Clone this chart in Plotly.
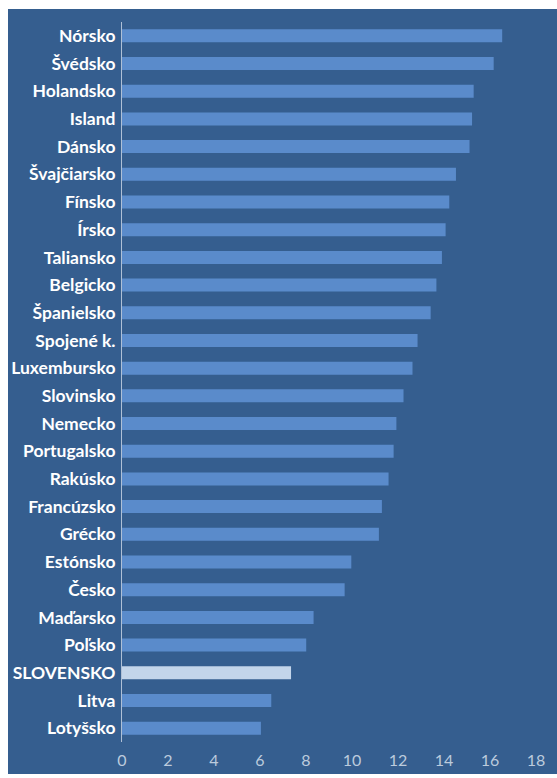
import plotly.graph_objects as go

# Krajiny zoradené zhora nadol
krajiny = [
    "Nórsko", "Švédsko", "Holandsko", "Island", "Dánsko", "Švajčiarsko",
    "Fínsko", "Írsko", "Taliansko", "Belgicko", "Španielsko", "Spojené k.",
    "Luxembursko", "Slovinsko", "Nemecko", "Portugalsko", "Rakúsko",
    "Francúzsko", "Grécko", "Estónsko", "Česko", "Maďarsko", "Poľsko",
    "SLOVENSKO", "Litva", "Lotyšsko",
]
hodnoty = [
    16.53, 16.16, 15.29, 15.22, 15.11, 14.52,
    14.23, 14.07, 13.91, 13.67, 13.42, 12.85,
    12.63, 12.24, 11.93, 11.81, 11.59,
    11.30, 11.17, 9.97, 9.68, 8.33, 8.01,
    7.35, 6.49, 6.04,
]
x_ticks = [0, 2, 4, 6, 8, 10, 12, 14, 16, 18]

BG = "#355E8F"
BAR = "#5A8BCB"
HIGHLIGHT = "#C3D5EA"

farby = [HIGHLIGHT if k == "SLOVENSKO" else BAR for k in krajiny]

fig = go.Figure(
    go.Bar(
        x=hodnoty,
        y=krajiny,
        orientation="h",
        marker=dict(color=farby, line=dict(width=0)),
        hoverinfo="x+y",
    )
)

W, H = 557, 778
L, R, T, B = 122, 21, 22, 36
pw, ph = W - L - R, H - T - B


def px_x(p):
    return (p - L) / pw


def px_y(p):
    return (H - B - p) / ph


# modré pozadie grafu s bielym okrajom vľavo a hore
fig.add_shape(
    type="rect", xref="paper", yref="paper",
    x0=px_x(8), x1=px_x(W + 5), y0=px_y(774), y1=px_y(9),
    fillcolor=BG, line=dict(width=0), layer="below",
)

fig.update_layout(
    width=W, height=H,
    margin=dict(l=L, r=R, t=T, b=B, pad=0),
    paper_bgcolor="white",
    plot_bgcolor="rgba(0,0,0,0)",
    bargap=0.53,
    showlegend=False,
    xaxis=dict(
        range=[0, 18],
        tickvals=x_ticks,
        ticktext=[str(v) for v in x_ticks],
        showgrid=False,
        zeroline=False,
        showline=False,
        automargin=False,
        ticks="outside", ticklen=4, tickcolor="rgba(0,0,0,0)",
        tickfont=dict(family="Lato", size=16, color="#BCCBDD"),
        fixedrange=True,
    ),
    yaxis=dict(
        categoryorder="array",
        categoryarray=krajiny,
        autorange="reversed",
        showgrid=False,
        zeroline=False,
        automargin=False,
        showline=True, linecolor="#AFC0D6", linewidth=1,
        ticks="outside", ticklen=2, tickcolor="rgba(0,0,0,0)",
        tickfont=dict(family="Lato", size=17.5, color="white", weight="bold"),
        fixedrange=True,
    ),
)

fig.write_html("out.html")
